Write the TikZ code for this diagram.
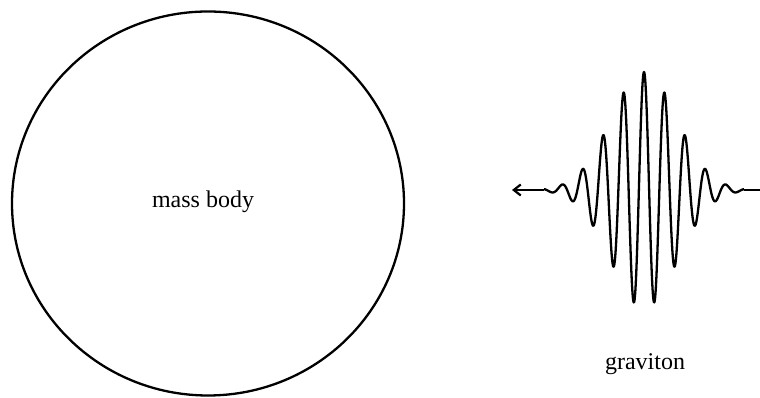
\documentclass[tikz,border=0pt]{standalone}
\usepackage{fontspec}
\setmainfont{Liberation Serif}
\usetikzlibrary{arrows.meta,shapes.geometric}
\begin{document}
\begin{tikzpicture}[x=1pt,y=1pt,
  line/.style={line width=2.3pt, line join=round},
  lbl/.style={font=\fontsize{24}{28}\selectfont, inner sep=0pt}]
\useasboundingbox (0,0) rectangle (760,398);
\node[line, draw, ellipse, minimum width=392pt, minimum height=384pt, inner sep=0pt] (body) at (208,194.5) {};
\node[lbl] (bodytext) at (203,196) {mass body};
\node[lbl] (grav) at (645,34) {graviton};
\coordinate (wl) at (544,208);
\coordinate (wr) at (744,208);
\coordinate (tip) at (512,208);
\coordinate (rend) at (760,208);
\draw[line] plot[domain=-100:100, samples=601, smooth] ({644+\x}, {208+118*exp(-\x*\x/2178)*cos(\x*17.56)});
\draw[line, -{Straight Barb[length=7pt,width=11pt,line width=2.2pt]}] (wl) -- (tip);
\draw[line] (wr) -- (rend);
\end{tikzpicture}
\end{document}
